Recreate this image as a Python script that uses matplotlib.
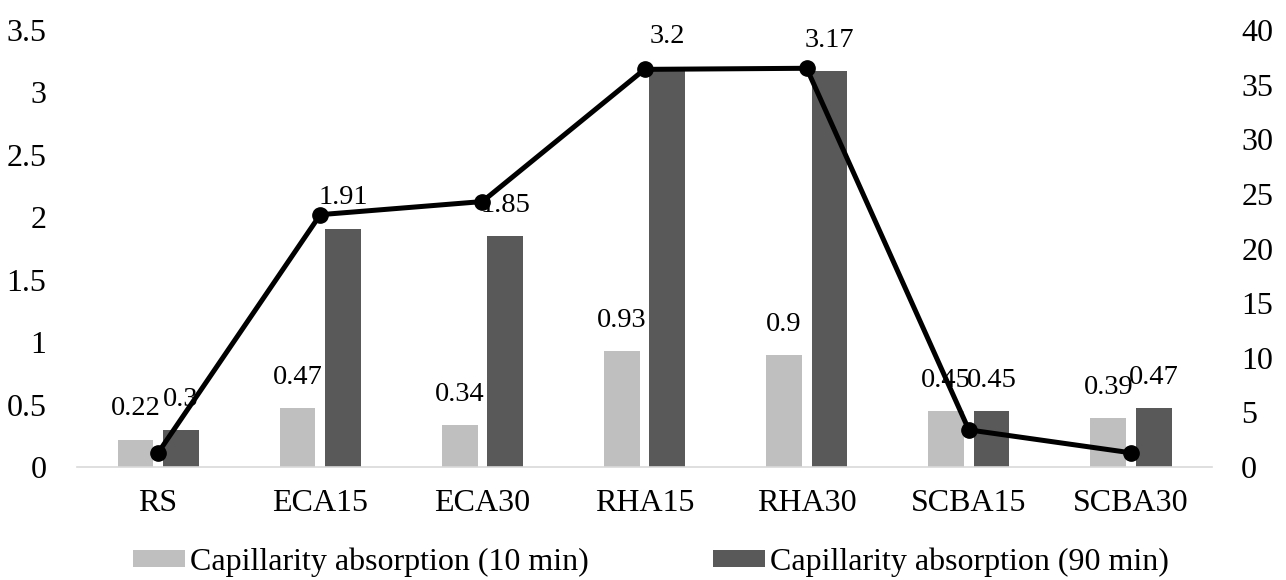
import numpy as np
import matplotlib.pyplot as plt

# data
categories = ['RS', 'ECA15', 'ECA30', 'RHA15', 'RHA30', 'SCBA15', 'SCBA30']
absorb_10 = [0.22, 0.47, 0.34, 0.93, 0.90, 0.45, 0.39]
absorb_90 = [0.30, 1.91, 1.85, 3.20, 3.17, 0.45, 0.47]
line_vals = [1.3, 23.1, 24.3, 36.4, 36.5, 3.4, 1.3]

plt.rcParams['font.family'] = ['Liberation Serif', 'DejaVu Serif']
fs = 23

fig = plt.figure(figsize=(12.86, 5.8), dpi=100)
ax = fig.add_axes([0.0599, 0.1948, 0.8826, 0.7534])
x = np.arange(len(categories))
w = 0.22

b1 = ax.bar(x - 0.14, absorb_10, w, color='#bfbfbf', label='Capillarity absorption (10 min)')
b2 = ax.bar(x + 0.14, absorb_90, w, color='#595959', label='Capillarity absorption (90 min)')

# value labels above the bars
for bars, vals in [(b1, absorb_10), (b2, absorb_90)]:
    for r, v in zip(bars, vals):
        ax.annotate(f'{v:g}', (r.get_x() + r.get_width() / 2, v),
                    xytext=(0, 22), textcoords='offset points',
                    ha='center', va='center', fontsize=20.5, zorder=5)

ax.set_xlim(-0.5, len(categories) - 0.5)
ax.set_ylim(0, 3.5)
ax.set_yticks(np.arange(0, 3.51, 0.5))
ax.set_yticklabels(['0', '0.5', '1', '1.5', '2', '2.5', '3', '3.5'])
ax.set_xticks(x)
ax.set_xticklabels(categories)
ax.tick_params(length=0, labelsize=fs)
ax.tick_params(axis='x', pad=16)
ax.tick_params(axis='y', pad=22)
for s in ['top', 'right', 'left']:
    ax.spines[s].set_visible(False)
ax.spines['bottom'].set_color('#d9d9d9')
ax.spines['bottom'].set_linewidth(1.2)

ax2 = ax.twinx()
ax2.plot(x, line_vals, color='black', lw=3.6, marker='o', ms=11, zorder=4)
ax2.set_ylim(0, 40)
ax2.set_yticks(range(0, 41, 5))
ax2.tick_params(length=0, labelsize=fs, pad=21)
for s in ['top', 'right', 'left', 'bottom']:
    ax2.spines[s].set_visible(False)

fig.legend(handles=[b1, b2], loc='center', bbox_to_anchor=(651 / 1286, 1 - 562 / 580),
           ncol=2, frameon=False, fontsize=fs, handlelength=1.63, handleheight=0.47,
           handletextpad=0.16, columnspacing=3.9, borderpad=0, borderaxespad=0)

fig.savefig('out.png', dpi=100)
